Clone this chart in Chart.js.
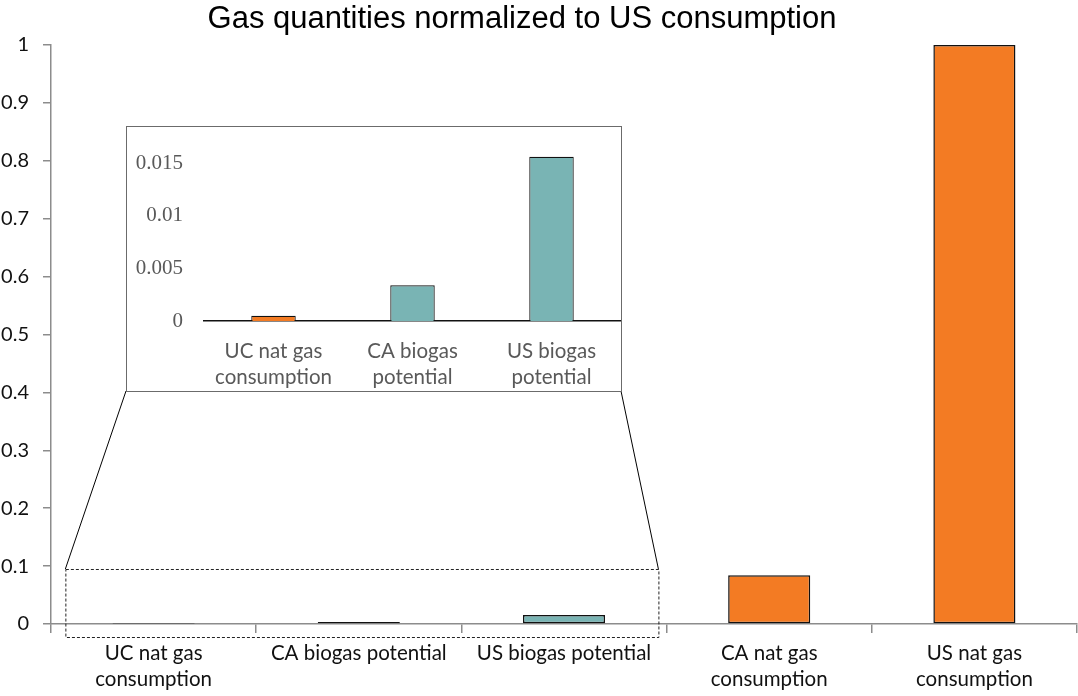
<!DOCTYPE html>
<html>
<head>
<meta charset="utf-8">
<script src="https://cdn.jsdelivr.net/npm/chart.js@4.4.1/dist/chart.umd.min.js"></script>
<style>
  html, body { margin: 0; padding: 0; background: #fff; }
  #main { position: absolute; left: 0; top: 0; width: 1078px; height: 696px; }
  #title { position: absolute; left: 0; top: 0; width: 1044px; text-align: center;
           font: 31px "Liberation Sans", Arial, sans-serif; line-height: 36px; color: #000; }
  #inset { position: absolute; left: 126px; top: 126px; width: 494px; height: 264px;
           border: 1px solid #6b6b6b; background: #fff; }
</style>
</head>
<body>
<div id="main"><canvas id="mainChart"></canvas></div>
<div id="title">Gas quantities normalized to US consumption</div>
<div id="inset"><canvas id="insetChart"></canvas></div>
<script>
// data
const mainLabels = [['UC nat gas', 'consumption'], 'CA biogas potential', 'US biogas potential',
  ['CA nat gas', 'consumption'], ['US nat gas', 'consumption']];
const mainValues = [0.0005, 0.0034, 0.0156, 0.084, 1];
const mainTicks = [0, 0.1, 0.2, 0.3, 0.4, 0.5, 0.6, 0.7, 0.8, 0.9, 1];

const insetLabels = [['UC nat gas', 'consumption'], ['CA biogas', 'potential'], ['US biogas', 'potential']];
const insetValues = mainValues.slice(0, 3);
const insetTicks = [0, 0.005, 0.01, 0.015];

const ORANGE = '#f37b23';
const TEAL = '#79b4b4';
const mainColors = [ORANGE, TEAL, TEAL, ORANGE, ORANGE];
const insetColors = [ORANGE, TEAL, TEAL];

const fmt = v => String(+Number(v).toFixed(3));
const noPad = s => { s.paddingTop = 0; s.paddingBottom = 0; };

// dashed zoom box + the two lines running up to the inset
const zoomLines = {
  id: 'zoomLines',
  afterDraw(chart) {
    const ctx = chart.ctx;
    const x = chart.scales.x, y = chart.scales.y;
    const cat = x.getPixelForValue(1) - x.getPixelForValue(0);
    const left = x.getPixelForValue(0) - 0.43 * cat;
    const right = x.getPixelForValue(2) + 0.46 * cat;
    const top = y.getPixelForValue(0.095);
    const bottom = y.getPixelForValue(0) + 13;
    const box = document.getElementById('inset');
    const bl = box.offsetLeft, br = box.offsetLeft + box.offsetWidth - 1;
    const bb = box.offsetTop + box.offsetHeight - 1;
    ctx.save();
    ctx.strokeStyle = '#222';
    ctx.lineWidth = 1;
    ctx.setLineDash([3, 2]);
    ctx.strokeRect(left + 0.5, top + 0.5, right - left, bottom - top);
    ctx.setLineDash([]);
    ctx.strokeStyle = '#000';
    ctx.beginPath();
    ctx.moveTo(left, top); ctx.lineTo(bl, bb);
    ctx.moveTo(right, top); ctx.lineTo(br, bb);
    ctx.stroke();
    ctx.restore();
  }
};

new Chart(document.getElementById('mainChart'), {
  type: 'bar',
  data: {
    labels: mainLabels,
    datasets: [{
      data: mainValues,
      backgroundColor: mainColors,
      borderColor: '#111',
      borderWidth: 1.5,
      borderSkipped: false,
      barPercentage: 0.4,
      categoryPercentage: 1
    }]
  },
  options: {
    responsive: true,
    maintainAspectRatio: false,
    animation: false,
    layout: { padding: { top: 45, right: 1 } },
    plugins: {
      legend: { display: false },
      tooltip: { enabled: false }
    },
    scales: {
      x: {
        afterFit: s => { s.height = 72; },
        border: { color: '#8c8c8c', width: 1.5 },
        grid: { drawOnChartArea: false, tickLength: 9, color: '#8c8c8c', lineWidth: 1.5 },
        ticks: { color: '#111', padding: 8, maxRotation: 0, autoSkip: false,
                 font: { family: 'Lato, sans-serif', size: 20.5, lineHeight: 1.25 } }
      },
      y: {
        min: 0,
        max: 1,
        afterFit: s => { s.width = 51; noPad(s); },
        afterBuildTicks: s => { s.ticks = mainTicks.map(v => ({ value: v })); },
        border: { color: '#8c8c8c', width: 1.5 },
        grid: { drawOnChartArea: false, tickLength: 8, color: '#8c8c8c', lineWidth: 1.5 },
        ticks: { color: '#111', padding: 14, callback: fmt,
                 font: { family: 'Lato, sans-serif', size: 20 } }
      }
    }
  },
  plugins: [zoomLines]
});

new Chart(document.getElementById('insetChart'), {
  type: 'bar',
  data: {
    labels: insetLabels,
    datasets: [{
      data: insetValues,
      backgroundColor: insetColors,
      borderColor: '#111',
      borderWidth: 1.2,
      barPercentage: 0.32,
      categoryPercentage: 1
    }]
  },
  options: {
    responsive: true,
    maintainAspectRatio: false,
    animation: false,
    layout: { padding: { top: 15 } },
    plugins: { legend: { display: false }, tooltip: { enabled: false } },
    scales: {
      x: {
        afterFit: s => { s.height = 70; },
        border: { color: '#111', width: 1.5 },
        grid: { display: false, drawTicks: false },
        ticks: { color: '#595959', padding: 18, maxRotation: 0, autoSkip: false,
                 font: { family: 'Lato, sans-serif', size: 20.5, lineHeight: 1.25 } }
      },
      y: {
        min: 0,
        max: 0.017,
        afterFit: s => { s.width = 77; noPad(s); },
        afterBuildTicks: s => { s.ticks = insetTicks.map(v => ({ value: v })); },
        border: { display: false },
        grid: { display: false, drawTicks: false },
        ticks: { color: '#595959', padding: 21, callback: fmt,
                 font: { family: 'Liberation Serif, serif', size: 21 } }
      }
    }
  }
});
</script>
</body>
</html>
